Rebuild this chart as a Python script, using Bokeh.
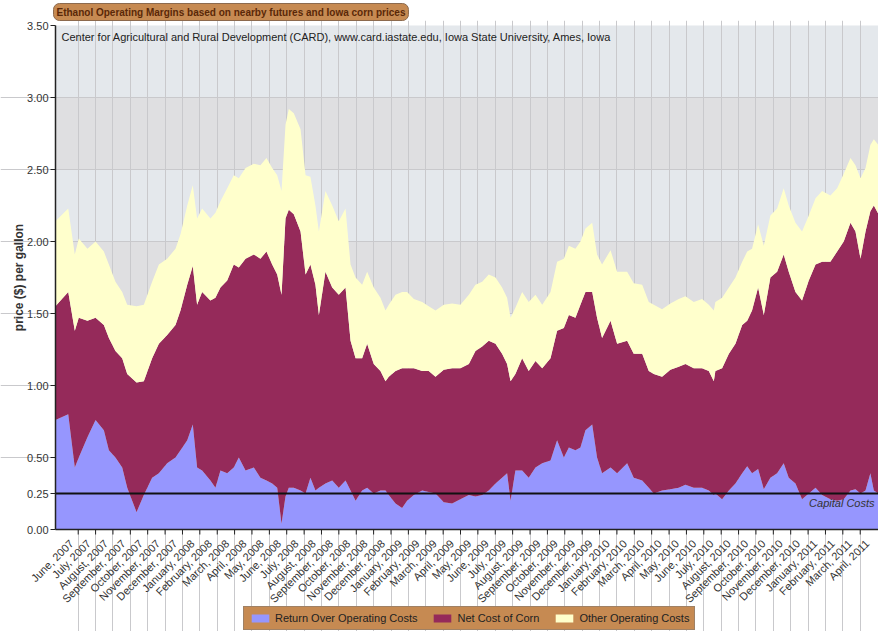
import math
from bokeh.plotting import figure
from bokeh.models import (ColumnDataSource, Range1d, FixedTicker, Label, BoxAnnotation,
                          Legend, LegendItem, Title)
from bokeh.core.properties import value
from bokeh.embed import file_html
from bokeh.resources import INLINE

# ---------------- data ----------------
month_labels = [
    "June, 2007", "July, 2007", "August, 2007", "September, 2007", "October, 2007",
    "November, 2007", "December, 2007",
    "January, 2008", "February, 2008", "March, 2008", "April, 2008", "May, 2008",
    "June, 2008", "July, 2008", "August, 2008", "September, 2008", "October, 2008",
    "November, 2008", "December, 2008",
    "January, 2009", "February, 2009", "March, 2009", "April, 2009", "May, 2009",
    "June, 2009", "July, 2009", "August, 2009", "September, 2009", "October, 2009",
    "November, 2009", "December, 2009",
    "January, 2010", "February, 2010", "March, 2010", "April, 2010", "May, 2010",
    "June, 2010", "July, 2010", "August, 2010", "September, 2010", "October, 2010",
    "November, 2010", "December, 2010",
    "January, 2011", "February, 2011", "March, 2011", "April, 2011",
]
label_pos = list(range(len(month_labels)))
tick_pos = [round(0.156 + 1.0046 * k, 3) for k in range(46)]

# time in months since June 2007
month_pos = [
    -1.16, -0.42, -0.04, 0.19, 0.69, 1.16, 1.64, 1.93, 2.31, 2.70, 2.99, 3.53, 3.95,
    4.43, 4.82, 5.30, 5.78, 6.07, 6.46, 6.78, 7.03, 7.32, 7.80, 8.09, 8.38,
    8.77, 9.15, 9.44, 9.83, 10.31, 10.69, 11.04, 11.37, 11.66, 11.91, 12.14, 12.33,
    12.62, 13.01, 13.30, 13.58, 13.87, 14.07, 14.45, 14.84, 15.22, 15.61, 15.90,
    16.19, 16.57, 16.86, 17.24, 17.63, 17.92,
    18.11, 18.50, 18.88, 19.17, 19.56, 20.04, 20.42, 20.81, 21.29, 21.77, 22.25,
    22.74, 23.12, 23.51, 23.89, 24.28, 24.66, 24.95, 25.15, 25.43, 25.82, 26.20,
    26.59, 26.98, 27.46,
    27.84, 28.23, 28.52, 28.90, 29.19, 29.48, 29.87, 30.15, 30.44, 30.93, 31.31,
    31.89, 32.27, 32.76, 33.14, 33.43, 33.91, 34.39, 34.87, 35.26, 35.74, 36.22,
    36.61, 36.90,
    36.99, 37.38, 37.77, 38.15, 38.54, 38.83, 39.11, 39.46, 39.79, 40.17, 40.56,
    40.94, 41.23, 41.62, 42.00, 42.39, 42.78, 43.16, 43.64, 44.03, 44.41, 44.80,
    45.09, 45.38, 45.67, 45.95, 46.15, 46.42,
]
return_over_costs = [
    0.76, 0.80, 0.43, 0.50, 0.64, 0.76, 0.69, 0.55, 0.50, 0.43, 0.29, 0.12, 0.24,
    0.36, 0.39, 0.46, 0.50, 0.55, 0.62, 0.73, 0.43, 0.41, 0.34, 0.29, 0.41,
    0.39, 0.43, 0.50, 0.41, 0.43, 0.36, 0.34, 0.32, 0.29, 0.04, 0.23, 0.29,
    0.29, 0.27, 0.25, 0.36, 0.27, 0.29, 0.32, 0.34, 0.29, 0.34, 0.27,
    0.20, 0.27, 0.29, 0.25, 0.27, 0.27,
    0.24, 0.18, 0.15, 0.20, 0.24, 0.27, 0.26, 0.25, 0.19, 0.18, 0.21,
    0.24, 0.23, 0.24, 0.27, 0.32, 0.36, 0.39, 0.20, 0.41, 0.41, 0.36,
    0.43, 0.46, 0.48,
    0.62, 0.50, 0.57, 0.55, 0.57, 0.69, 0.73, 0.50, 0.39, 0.43, 0.39,
    0.46, 0.36, 0.34, 0.29, 0.25, 0.27, 0.28, 0.29, 0.31, 0.29, 0.29,
    0.27, 0.24,
    0.25, 0.21, 0.27, 0.32, 0.39, 0.44, 0.39, 0.42, 0.28, 0.36, 0.39,
    0.46, 0.36, 0.32, 0.21, 0.25, 0.29, 0.24, 0.21, 0.20, 0.21, 0.27,
    0.28, 0.25, 0.27, 0.39, 0.27, 0.25,
]
net_cost_of_corn = [
    0.79, 0.85, 0.95, 0.97, 0.81, 0.71, 0.73, 0.78, 0.74, 0.76, 0.79, 0.90, 0.79,
    0.83, 0.90, 0.89, 0.92, 0.97, 1.08, 1.10, 1.13, 1.24, 1.25, 1.32, 1.27,
    1.34, 1.41, 1.32, 1.47, 1.48, 1.52, 1.59, 1.52, 1.48, 1.59, 1.93, 1.93,
    1.90, 1.80, 1.52, 1.48, 1.43, 1.20, 1.47, 1.34, 1.34, 1.34, 1.04,
    0.99, 0.92, 1.00, 0.90, 0.83, 0.76,
    0.82, 0.92, 0.97, 0.92, 0.88, 0.83, 0.84, 0.81, 0.92, 0.94, 0.91,
    0.91, 1.01, 1.03, 1.04, 0.97, 0.86, 0.76, 0.83, 0.67, 0.78, 0.74,
    0.74, 0.66, 0.71,
    0.76, 0.90, 0.92, 0.92, 0.99, 0.96, 0.92, 0.97, 0.94, 1.02, 0.90,
    0.85, 0.86, 0.88, 0.81, 0.83, 0.79, 0.83, 0.84, 0.84, 0.83, 0.83,
    0.83, 0.79,
    0.85, 0.91, 0.95, 0.97, 1.03, 1.01, 1.13, 1.26, 1.21, 1.39, 1.40,
    1.45, 1.43, 1.33, 1.38, 1.48, 1.55, 1.62, 1.65, 1.73, 1.79, 1.86,
    1.79, 1.63, 1.80, 1.82, 1.98, 1.94,
]
other_operating_costs = [
    0.59, 0.58, 0.53, 0.55, 0.50, 0.53, 0.51, 0.51, 0.48, 0.46, 0.48, 0.53, 0.53,
    0.53, 0.55, 0.53, 0.53, 0.53, 0.55, 0.56, 0.60, 0.58, 0.57, 0.59, 0.60,
    0.64, 0.62, 0.62, 0.63, 0.63, 0.65, 0.65, 0.67, 0.69, 0.72, 0.65, 0.70,
    0.70, 0.71, 0.69, 0.61, 0.55, 0.58, 0.56, 0.57, 0.51, 0.55, 0.53,
    0.56, 0.51, 0.50, 0.53, 0.51, 0.49,
    0.50, 0.53, 0.53, 0.53, 0.48, 0.48, 0.45, 0.46, 0.45, 0.45, 0.44,
    0.48, 0.46, 0.45, 0.46, 0.46, 0.46, 0.46, 0.44, 0.46, 0.46, 0.48,
    0.46, 0.44, 0.46,
    0.48, 0.48, 0.48, 0.48, 0.44, 0.44, 0.48, 0.44, 0.51, 0.49, 0.50,
    0.48, 0.49, 0.48, 0.48, 0.48, 0.47, 0.46, 0.47, 0.47, 0.46, 0.48,
    0.46, 0.49,
    0.48, 0.49, 0.46, 0.46, 0.44, 0.48, 0.43, 0.44, 0.48, 0.43, 0.44,
    0.46, 0.46, 0.48, 0.48, 0.45, 0.46, 0.49, 0.46, 0.44, 0.47, 0.45,
    0.46, 0.56, 0.44, 0.46, 0.46, 0.48,
]
capital_costs = 0.25
y_ticks = [0.0, 0.25, 0.5, 1.0, 1.5, 2.0, 2.5, 3.0, 3.5]
grid_y = [0.0, 0.5, 1.0, 1.5, 2.0, 2.5, 3.0, 3.5]

series_names = ["Return Over Operating Costs", "Net Cost of Corn", "Other Operating Costs"]
series_colors = ["#9696fe", "#952a5a", "#ffffcc"]
band_colors = ["#e4e8ec", "#dfdfe1"]

# ---------------- geometry ----------------
FONT = "Liberation Sans"
x_start, x_end = -1.156, 46.42      # data area in months
y_top = 3.5
PLOT_W, PLOT_H = 823, 504            # pixel size of the data area
LEFT_W, BOTTOM_H, TOP_H = 55, 102, 5 # strips kept inside the frame for axis texts
px_x = PLOT_W / (x_end - x_start)
px_y = PLOT_H / y_top
x_frame = x_start - LEFT_W / px_x
y_bottom = -BOTTOM_H / px_y
y_frame_top = y_top + TOP_H / px_y

p = figure(frame_width=PLOT_W + LEFT_W, frame_height=PLOT_H + BOTTOM_H + TOP_H,
           output_backend="svg", toolbar_location=None,
           x_range=Range1d(x_frame, x_end), y_range=Range1d(y_bottom, y_frame_top),
           min_border_left=0, min_border_right=0, min_border_top=20, min_border_bottom=0)
p.background_fill_color = "white"
p.border_fill_color = "white"
p.outline_line_color = None
p.xaxis.visible = False
p.yaxis.visible = False

# alternating background bands of the data area (drawn before the grid lines)
bands = [BoxAnnotation(left=x_start, right=x_end, bottom=lo, top=hi,
                       fill_color=band_colors[i % 2], fill_alpha=1.0, line_color=None,
                       level="underlay")
         for i, (lo, hi) in enumerate(zip(grid_y[:-1], grid_y[1:]))]
p.center = bands + list(p.center)

p.ygrid.ticker = FixedTicker(ticks=grid_y[1:-1])
p.ygrid.grid_line_color = "#c9c9cc"
p.ygrid.bounds = (x_start, x_end)
p.xgrid.ticker = FixedTicker(ticks=tick_pos)
p.xgrid.grid_line_color = "#c9c9cc"
p.xgrid.bounds = (0, y_top)

# stacked areas
src = ColumnDataSource(dict(x=month_pos, ret=return_over_costs,
                            corn=net_cost_of_corn, other=other_operating_costs))
rs = p.varea_stack(["ret", "corn", "other"], x="x", source=src, color=series_colors)

# capital costs line
p.segment(x0=[x_start], y0=[capital_costs], x1=[x_end], y1=[capital_costs],
          line_color="#111111", line_width=2)

# x axis (line, ticks, rotated month labels)
p.segment(x0=[x_start], y0=[0], x1=[x_end], y1=[0], line_color="#222222", line_width=1.5)
p.segment(x0=tick_pos, y0=[0] * len(tick_pos), x1=tick_pos,
          y1=[-5 / px_y] * len(tick_pos), line_color="#222222", line_width=1)
p.text(x=label_pos, y=[0] * len(label_pos), text=month_labels, angle=math.pi / 4,
       text_align="right", text_baseline="middle", x_offset=-4, y_offset=12,
       text_font=value(FONT), text_font_size="11px", text_color="#333333")

# y axis (line, ticks, labels, title)
p.segment(x0=[x_start], y0=[0], x1=[x_start], y1=[y_top], line_color="#222222",
          line_width=1.5)
p.segment(x0=[x_start - 5 / px_x] * len(y_ticks), y0=y_ticks,
          x1=[x_start] * len(y_ticks), y1=y_ticks, line_color="#222222", line_width=1)
p.text(x=[x_start] * len(y_ticks), y=y_ticks, text=["%.2f" % v for v in y_ticks],
       text_align="right", text_baseline="middle", x_offset=-7,
       text_font=value(FONT), text_font_size="11px", text_color="#333333")
p.text(x=[x_start - 37 / px_x], y=[y_top / 2], text=["price ($) per gallon"],
       angle=math.pi / 2, text_align="center", text_baseline="middle",
       text_font=value(FONT), text_font_size="12px", text_font_style="bold",
       text_color="#333333")

p.add_layout(Label(x=x_end, y=capital_costs, text="Capital Costs", text_align="right",
                   text_baseline="top", x_offset=-4, y_offset=-3,
                   text_font=FONT, text_font_size="11px", text_font_style="italic",
                   text_color="#333333"))

# subtitle inside plot
p.add_layout(Label(x=x_start, y=y_top, text="Center for Agricultural and Rural Development (CARD), "
                   "www.card.iastate.edu, Iowa State University, Ames, Iowa",
                   x_offset=6, y_offset=-5, text_baseline="top",
                   text_font=FONT, text_font_size="11px", text_color="#222222"))

# title tab
p.title = Title(text="Ethanol Operating Margins based on nearby futures and Iowa corn prices",
                align="left", text_font=FONT, text_font_size="10px",
                text_font_style="bold", text_color="#5a2808",
                background_fill_color="#c68a52", border_line_color="#8c6a4e",
                padding=3, border_radius=6, standoff=0, offset=53)

# legend at the bottom of the white strip
legend = Legend(items=[LegendItem(label=n, renderers=[r]) for n, r in zip(series_names, rs)],
                orientation="horizontal", location=(243, 1))
legend.background_fill_color = "#c68a52"
legend.background_fill_alpha = 1.0
legend.border_line_color = "#777777"
legend.label_text_font = FONT
legend.label_text_font_size = "11px"
legend.label_text_color = "#222222"
legend.label_height = 12
legend.glyph_width = 22
legend.glyph_height = 10
legend.spacing = 14
legend.padding = 5
legend.margin = 0
legend.label_standoff = 4
p.add_layout(legend, "center")

open("out.html", "w").write(file_html(p, INLINE))
